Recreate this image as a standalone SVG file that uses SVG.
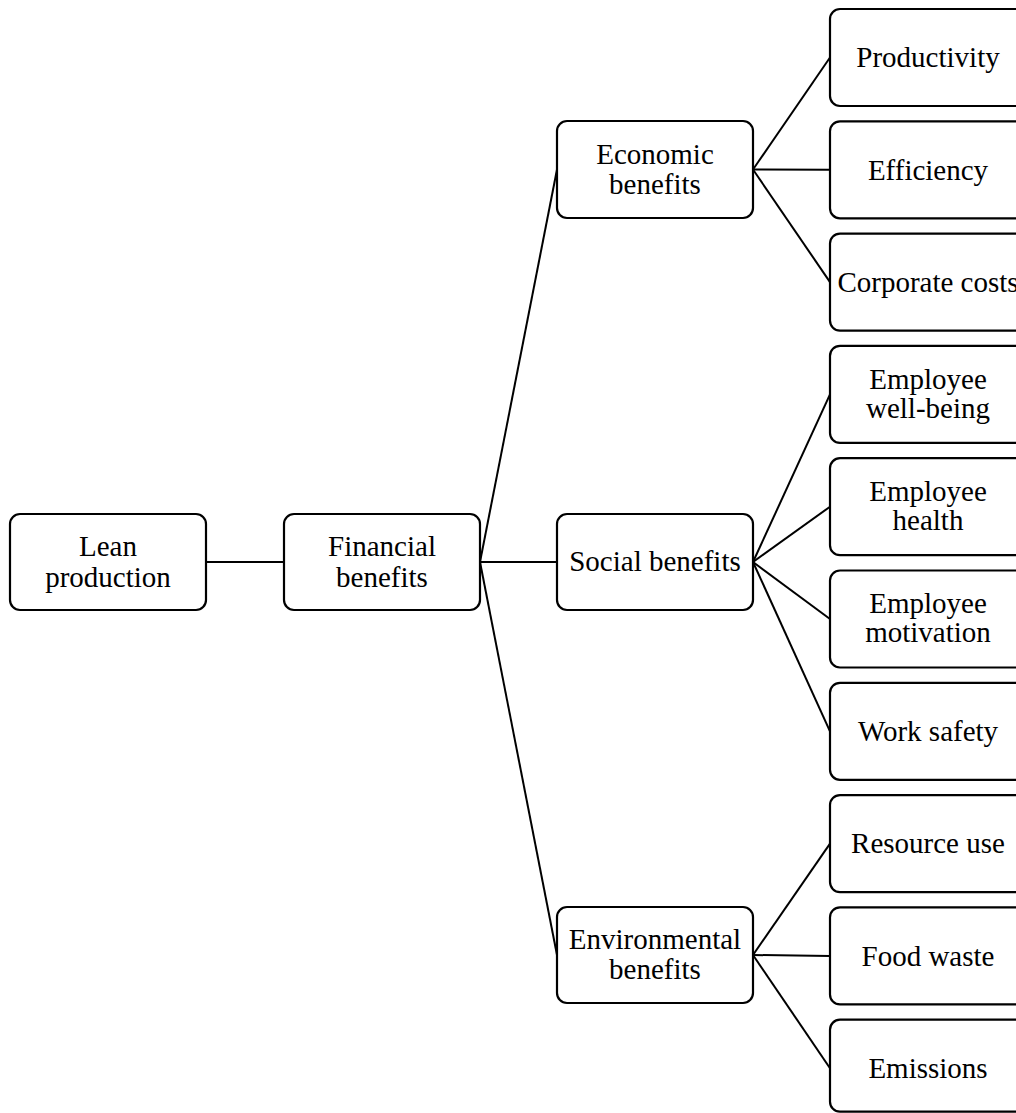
<svg xmlns="http://www.w3.org/2000/svg" width="1016" height="1113" viewBox="0 0 1016 1113">
<style>
.box{fill:#fff;stroke:#000;stroke-width:2.2}
.t{font-family:"Liberation Serif","Times New Roman",serif;font-size:29px;fill:#000;text-anchor:middle}
.c{stroke:#000;stroke-width:2;fill:none}
</style>
<rect width="1016" height="1113" fill="#fff"/>
<g id="connectors">
<line class="c" x1="206" y1="562" x2="284" y2="562"/>
<line class="c" x1="480" y1="562" x2="557" y2="169.5"/>
<line class="c" x1="480" y1="562" x2="557" y2="562"/>
<line class="c" x1="480" y1="562" x2="557" y2="955"/>
<line class="c" x1="753" y1="169.5" x2="830" y2="57.5"/>
<line class="c" x1="753" y1="169.5" x2="830" y2="169.8"/>
<line class="c" x1="753" y1="169.5" x2="830" y2="282.1"/>
<line class="c" x1="753" y1="562" x2="830" y2="394.4"/>
<line class="c" x1="753" y1="562" x2="830" y2="506.7"/>
<line class="c" x1="753" y1="562" x2="830" y2="619"/>
<line class="c" x1="753" y1="562" x2="830" y2="731.3"/>
<line class="c" x1="753" y1="955" x2="830" y2="843.6"/>
<line class="c" x1="753" y1="955" x2="830" y2="955.9"/>
<line class="c" x1="753" y1="955" x2="830" y2="1068.2"/>
</g>
<g id="lean"><rect class="box" x="10" y="514" width="196" height="96" rx="10"/><text class="t" x="108" y="556">Lean</text><text class="t" x="108" y="587">production</text></g>
<g id="financial"><rect class="box" x="284" y="514" width="196" height="96" rx="10"/><text class="t" x="382" y="556">Financial</text><text class="t" x="382" y="587">benefits</text></g>
<g id="economic"><rect class="box" x="557" y="121" width="196" height="97" rx="10"/><text class="t" x="655" y="163.5">Economic</text><text class="t" x="655" y="193.5">benefits</text></g>
<g id="social"><rect class="box" x="557" y="514" width="196" height="96" rx="10"/><text class="t" x="655" y="571">Social benefits</text></g>
<g id="environmental"><rect class="box" x="557" y="907" width="196" height="96" rx="10"/><text class="t" x="655" y="948.5">Environmental</text><text class="t" x="655" y="978.5">benefits</text></g>
<g id="productivity"><rect class="box" x="830" y="9" width="196" height="97" rx="10"/><text class="t" x="928" y="67">Productivity</text></g>
<g id="efficiency"><rect class="box" x="830" y="121.3" width="196" height="97" rx="10"/><text class="t" x="928" y="179.5">Efficiency</text></g>
<g id="corporate"><rect class="box" x="830" y="233.6" width="196" height="97" rx="10"/><text class="t" x="928" y="291.5">Corporate costs</text></g>
<g id="wellbeing"><rect class="box" x="830" y="345.9" width="196" height="97" rx="10"/><text class="t" x="928" y="389">Employee</text><text class="t" x="928" y="418">well-being</text></g>
<g id="health"><rect class="box" x="830" y="458.2" width="196" height="97" rx="10"/><text class="t" x="928" y="501">Employee</text><text class="t" x="928" y="530">health</text></g>
<g id="motivation"><rect class="box" x="830" y="570.5" width="196" height="97" rx="10"/><text class="t" x="928" y="613">Employee</text><text class="t" x="928" y="642">motivation</text></g>
<g id="safety"><rect class="box" x="830" y="682.8" width="196" height="97" rx="10"/><text class="t" x="928" y="741">Work safety</text></g>
<g id="resource"><rect class="box" x="830" y="795.1" width="196" height="97" rx="10"/><text class="t" x="928" y="853">Resource use</text></g>
<g id="food"><rect class="box" x="830" y="907.4" width="196" height="97" rx="10"/><text class="t" x="928" y="965.5">Food waste</text></g>
<g id="emissions"><rect class="box" x="830" y="1019.7" width="196" height="92" rx="10"/><text class="t" x="928" y="1077.5">Emissions</text></g>
</svg>
